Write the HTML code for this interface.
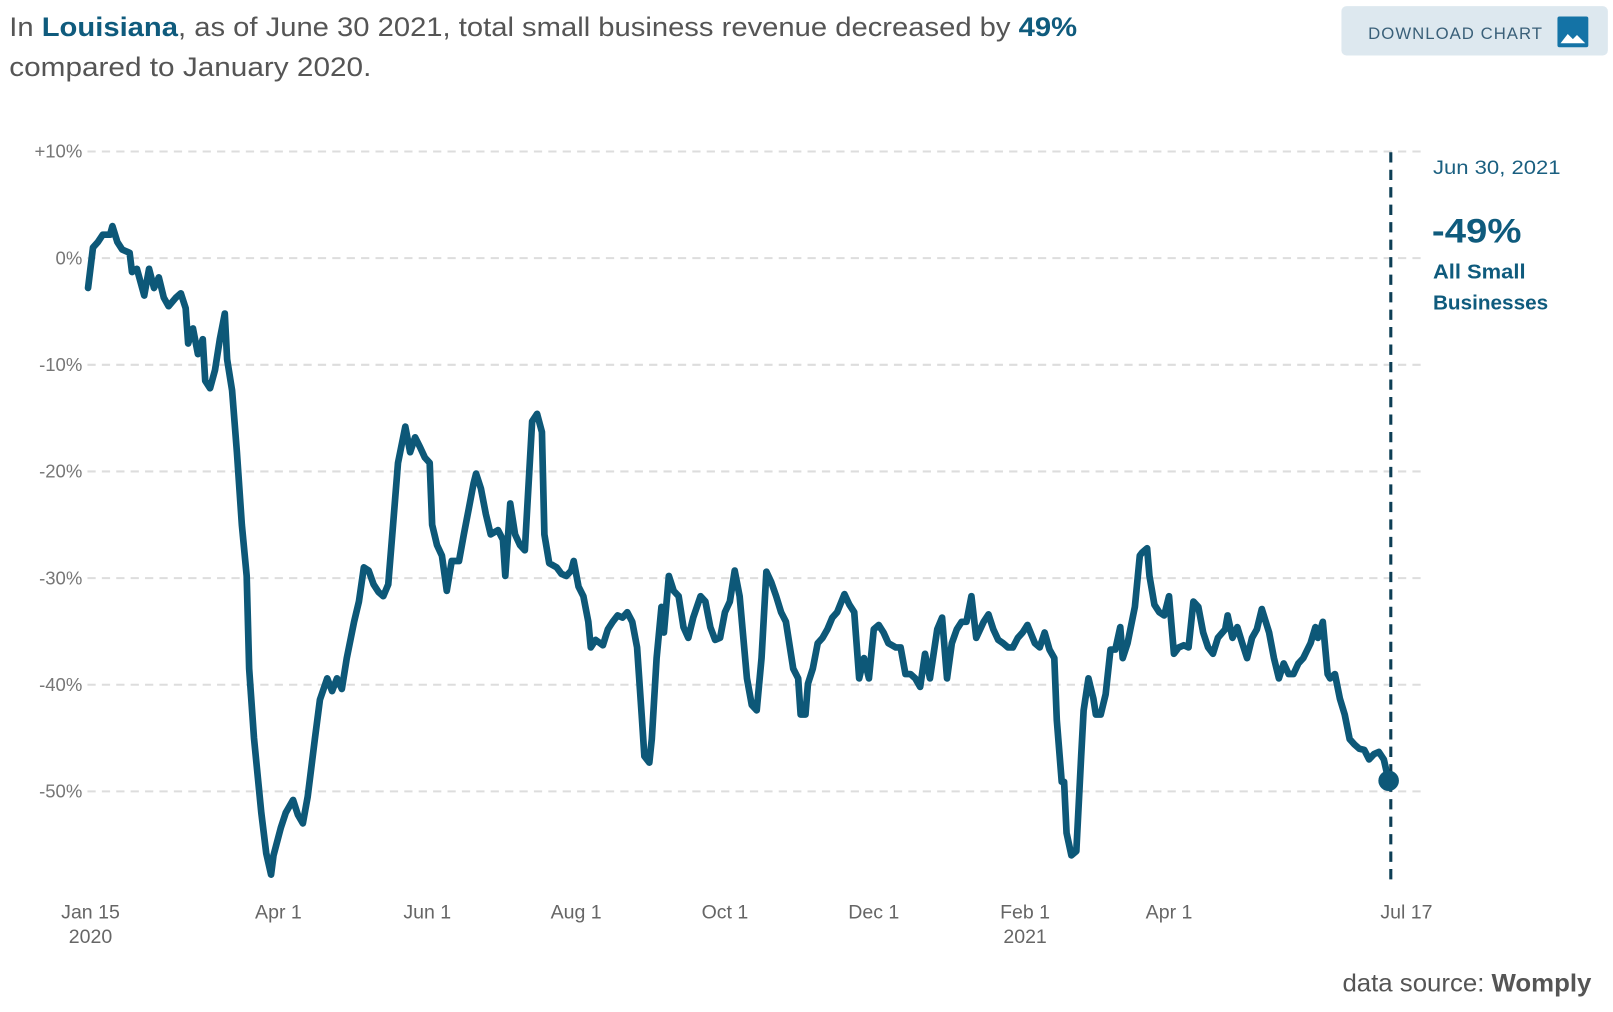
<!DOCTYPE html>
<html><head><meta charset="utf-8"><style>
html,body{margin:0;padding:0;background:#fff;width:1613px;height:1012px;overflow:hidden}
svg{display:block}
text{font-family:"Liberation Sans",sans-serif}
</style></head><body>
<svg width="1613" height="1012" viewBox="0 0 1568 984" preserveAspectRatio="none" xmlns="http://www.w3.org/2000/svg">
<text x="9" y="35" font-size="26" fill="#555" textLength="1038" lengthAdjust="spacingAndGlyphs">In <tspan font-weight="bold" fill="#0f5b7d">Louisiana</tspan>, as of June 30 2021, total small business revenue decreased by <tspan font-weight="bold" fill="#0f5b7d">49%</tspan></text>
<text x="9" y="74" font-size="26" fill="#555" textLength="352" lengthAdjust="spacingAndGlyphs">compared to January 2020.</text>
<g>
<rect x="1304" y="6" width="259" height="48" rx="5" fill="#dde8ef"/>
<text x="1330" y="38" font-size="16.5" letter-spacing="1" fill="#3a6079" textLength="170" lengthAdjust="spacingAndGlyphs">DOWNLOAD CHART</text>
<rect x="1514" y="16" width="30" height="30" rx="2" fill="#1473a6"/>
<path d="M1517 42 L1524 33 L1529 38 L1533 34 L1541 42 Z" fill="#fff"/>
</g>
<g id="grid"></g>
<g id="xaxis"></g>
<path id="line" fill="none" stroke="#0d5878" stroke-width="6.5" stroke-linejoin="round" stroke-linecap="round"/>
<line x1="1352" y1="148" x2="1352" y2="858" stroke="#0d3e55" stroke-width="3" stroke-dasharray="10,7"/>
<circle id="endDot" r="10" fill="#0d5878"/>
<text x="1393" y="169" font-size="19" fill="#1a5f80" textLength="124" lengthAdjust="spacingAndGlyphs">Jun 30, 2021</text>
<text x="1392" y="236" font-size="33" font-weight="bold" fill="#0f5b7d" textLength="87" lengthAdjust="spacingAndGlyphs">-49%</text>
<text x="1393" y="271" font-size="20" font-weight="bold" fill="#0f5b7d" textLength="90" lengthAdjust="spacingAndGlyphs">All Small</text>
<text x="1393" y="301" font-size="20" font-weight="bold" fill="#0f5b7d" textLength="112" lengthAdjust="spacingAndGlyphs">Businesses</text>
<text x="1305" y="964" font-size="24" fill="#555" textLength="242" lengthAdjust="spacingAndGlyphs">data source: <tspan font-weight="bold">Womply</tspan></text>
</svg>
<script>
const yTicks=[10,0,-10,-20,-30,-40,-50];
const yTickLabels=["+10%","0%","-10%","-20%","-30%","-40%","-50%"];
const xTickDays=[0,77,138,199,260,321,383,442,549];
const xTickLabels=["Jan 15","Apr 1","Jun 1","Aug 1","Oct 1","Dec 1","Feb 1","Apr 1","Jul 17"];
const xTickSub=["2020","","","","","","2021","",""];
const days=[-1,1,3,5,8,9,11,13,16,17,19,22,24,26,28,30,32,35,37,39,40,42,44,46,47,49,51,53,55,56,58,60,62,64,65,67,70,72,74,75,78,80,83,85,87,89,92,94,97,99,101,103,105,108,110,112,114,116,118,120,122,124,126,129,131,133,135,137,139,140,142,144,146,148,151,153,155,157,158,160,162,164,167,169,170,172,174,176,178,180,181,183,185,186,188,191,193,195,197,198,200,202,204,205,207,210,212,214,216,218,220,222,224,226,227,229,230,232,234,235,237,239,241,243,245,247,250,252,254,256,258,260,262,264,266,269,271,273,275,277,279,281,283,285,288,290,291,293,294,296,298,300,302,304,306,309,311,313,315,317,319,321,323,325,327,330,332,334,336,338,340,342,344,347,349,351,353,355,357,359,361,363,366,368,370,372,374,376,378,380,382,384,387,389,391,393,395,396,398,399,400,402,404,406,407,409,411,412,414,416,418,420,422,423,425,428,430,431,433,434,436,438,440,442,444,446,448,450,452,454,456,458,460,462,465,466,468,470,472,474,476,478,480,483,485,487,489,491,493,495,497,500,502,503,505,507,508,510,512,514,516,518,520,522,524,526,528,530,532];
const values=[-2.8,1,1.5,2.2,2.2,3,1.5,0.8,0.5,-1.3,-1,-3.5,-1,-2.8,-1.8,-3.7,-4.5,-3.7,-3.3,-4.7,-8,-6.6,-9,-7.6,-11.5,-12.2,-10.5,-7.6,-5.2,-9.5,-12.4,-18.2,-25,-29.8,-38.5,-45,-52,-55.8,-57.8,-56,-53.4,-52,-50.8,-52.2,-53,-50.5,-45,-41.4,-39.4,-40.6,-39.4,-40.4,-37.5,-34.1,-32.2,-29,-29.3,-30.6,-31.3,-31.7,-30.6,-25,-19.2,-15.8,-18.2,-16.8,-17.7,-18.7,-19.2,-25,-26.9,-27.9,-31.2,-28.4,-28.4,-25.9,-23.5,-21.1,-20.2,-21.6,-24,-25.9,-25.5,-26.4,-29.8,-23,-25.9,-26.9,-27.4,-19.2,-15.3,-14.6,-16.3,-25.9,-28.6,-29,-29.6,-29.8,-29.3,-28.4,-30.8,-31.7,-34.1,-36.5,-35.8,-36.3,-34.8,-34.1,-33.5,-33.7,-33.2,-34.1,-36.5,-43.3,-46.7,-47.3,-45.1,-37.5,-32.7,-35.1,-29.8,-31.2,-31.7,-34.6,-35.6,-33.7,-31.7,-32.2,-34.6,-35.8,-35.6,-33.2,-32.2,-29.3,-31.7,-39.4,-41.9,-42.4,-37.5,-29.4,-30.4,-31.7,-33.2,-34.1,-38.5,-39.4,-42.8,-42.8,-39.9,-38.5,-36.1,-35.6,-34.8,-33.7,-33.2,-31.5,-32.5,-33.2,-39.4,-37.5,-39.4,-34.8,-34.4,-35.1,-36.1,-36.5,-36.5,-39,-39,-39.4,-40.2,-37.1,-39.4,-34.8,-33.7,-39.4,-36.1,-34.8,-34.1,-34.1,-31.7,-35.6,-34.1,-33.4,-34.8,-35.8,-36.1,-36.5,-36.5,-35.6,-35.1,-34.4,-36.1,-36.5,-35.1,-36.7,-37.5,-43.3,-49.1,-49.1,-53.9,-56,-55.6,-46.7,-42.4,-39.4,-41.3,-42.8,-42.8,-40.9,-36.7,-36.7,-34.6,-37.5,-36.1,-32.7,-27.9,-27.6,-27.2,-29.8,-32.5,-33.2,-33.5,-31.7,-37.1,-36.5,-36.3,-36.5,-32.2,-32.7,-35.1,-36.5,-37.1,-35.6,-34.8,-33.5,-35.6,-34.6,-36.1,-37.5,-35.6,-34.8,-32.9,-35.1,-37.5,-39.4,-38,-39,-39,-38,-37.5,-36.1,-34.6,-35.6,-34.1,-39,-39.4,-39,-41.3,-42.8,-45.1,-45.6,-46,-46.1,-47,-46.5,-46.3,-47,-49];
const NS="http://www.w3.org/2000/svg";
function xScale(d){return 88+d*2.372;}
function yScale(v){return 251-v*10.37;}
const grid=document.getElementById('grid');
yTicks.forEach((t,i)=>{
  const l=document.createElementNS(NS,'line');
  
  
  l.setAttribute('x1',85);l.setAttribute('x2',1387);
  l.setAttribute('y1',yScale(t));l.setAttribute('y2',yScale(t));
  l.setAttribute('stroke','#ddd');l.setAttribute('stroke-width','2');l.setAttribute('stroke-dasharray','8,6');
  grid.appendChild(l);
  const tx=document.createElementNS(NS,'text');
  
  
  tx.setAttribute('x',80);tx.setAttribute('y',yScale(t)+6);
  tx.setAttribute('text-anchor','end');tx.setAttribute('font-size','18');tx.setAttribute('fill','#777');
  tx.textContent=yTickLabels[i];
  grid.appendChild(tx);
});
const xa=document.getElementById('xaxis');
xTickDays.forEach((d,i)=>{
  const tx=document.createElementNS(NS,'text');
  
  
  tx.setAttribute('x',xScale(d)+(i==xTickDays.length-1?-23:0));tx.setAttribute('y',893);
  tx.setAttribute('text-anchor','middle');tx.setAttribute('font-size','19');tx.setAttribute('fill','#666');
  tx.textContent=xTickLabels[i];
  xa.appendChild(tx);
  if(xTickSub[i]){
    const s=document.createElementNS(NS,'text');
    
    
    s.setAttribute('x',xScale(d));s.setAttribute('y',917);
    s.setAttribute('text-anchor','middle');s.setAttribute('font-size','19');s.setAttribute('fill','#666');
    s.textContent=xTickSub[i];
    xa.appendChild(s);
  }
});
let dstr='';
days.forEach((d,i)=>{dstr+=(i?'L':'M')+xScale(d).toFixed(1)+' '+yScale(values[i]).toFixed(1);});
document.getElementById('line').setAttribute('d',dstr);
const dot=document.getElementById('endDot');
dot.setAttribute('cx',xScale(days[days.length-1]));
dot.setAttribute('cy',yScale(values[values.length-1]));
</script>
</body></html>
